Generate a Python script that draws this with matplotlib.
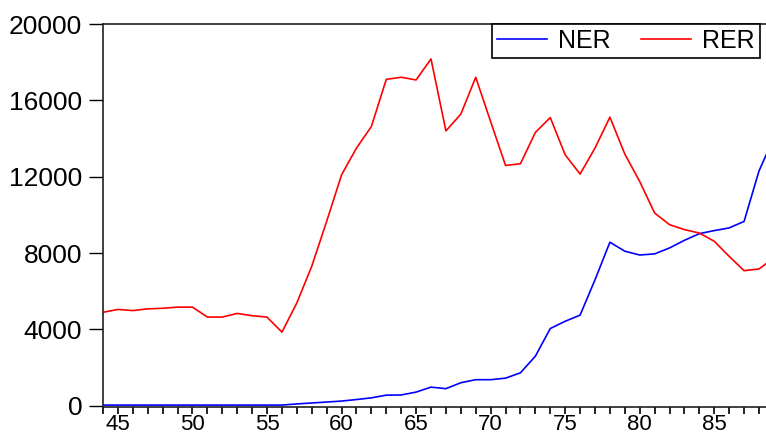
import numpy as np
import matplotlib.pyplot as plt
from matplotlib.ticker import MultipleLocator

plt.rcParams['font.family'] = ['Liberation Sans', 'DejaVu Sans']

anos = list(range(44, 90))

# taxa de cambio nominal
ner = [40, 40, 40, 40, 40, 40, 40, 40, 40, 40, 40, 40, 40,
       100, 150, 200, 250, 330, 420, 560,
       570, 720, 980, 900, 1210, 1370, 1370, 1450, 1730, 2600,
       4050, 4430, 4750, 6600, 8570, 8100, 7900, 7960, 8270, 8670,
       9020, 9180, 9320, 9660, 12300, 14050]

# taxa de cambio real
rer = [4900, 5050, 4990, 5080, 5110, 5170, 5170, 4650, 4650, 4840, 4720, 4650, 3860,
       5390, 7310, 9660, 12100, 13500, 14630, 17100,
       17210, 17070, 18170, 14400, 15280, 17210, 14890, 12590, 12680, 14320,
       15100, 13150, 12140, 13500, 15120, 13190, 11750, 10100, 9490, 9230,
       9050, 8620, 7830, 7080, 7170, 7750]

fig = plt.figure(figsize=(7.66, 4.38), dpi=100)
ax = fig.add_axes([0.1345, 0.0708, 0.8758, 0.8744])

ax.plot(anos, ner, color='#0000ff', lw=1.2, label='NER')
ax.plot(anos, rer, color='#ff0000', lw=1.2, label='RER')

ax.set_xlim(44, 89)
ax.set_ylim(-60, 20000)
ax.set_xticks([45, 50, 55, 60, 65, 70, 75, 80, 85])
ax.xaxis.set_minor_locator(MultipleLocator(1))
ax.set_yticks([0, 4000, 8000, 12000, 16000, 20000])

ax.tick_params(axis='y', direction='out', length=10, width=1, labelsize=19, pad=5)
ax.tick_params(axis='x', which='major', direction='out', length=5, width=1.2, labelsize=16, pad=0)
ax.tick_params(axis='x', which='minor', direction='out', length=5, width=1.2)

for s in ax.spines.values():
    s.set_linewidth(1.2)
    s.set_color('#202020')

leg = ax.legend(loc='upper left', bbox_to_anchor=(492 / 766, 1 - 24 / 438),
                bbox_transform=fig.transFigure, ncol=2, fontsize=18,
                frameon=True, fancybox=False, edgecolor='black', framealpha=1,
                handlelength=2.0, handletextpad=0.45, columnspacing=1.2,
                borderpad=0.2, borderaxespad=0)
leg.get_frame().set_linewidth(1.2)

plt.savefig('out.png', dpi=100)
